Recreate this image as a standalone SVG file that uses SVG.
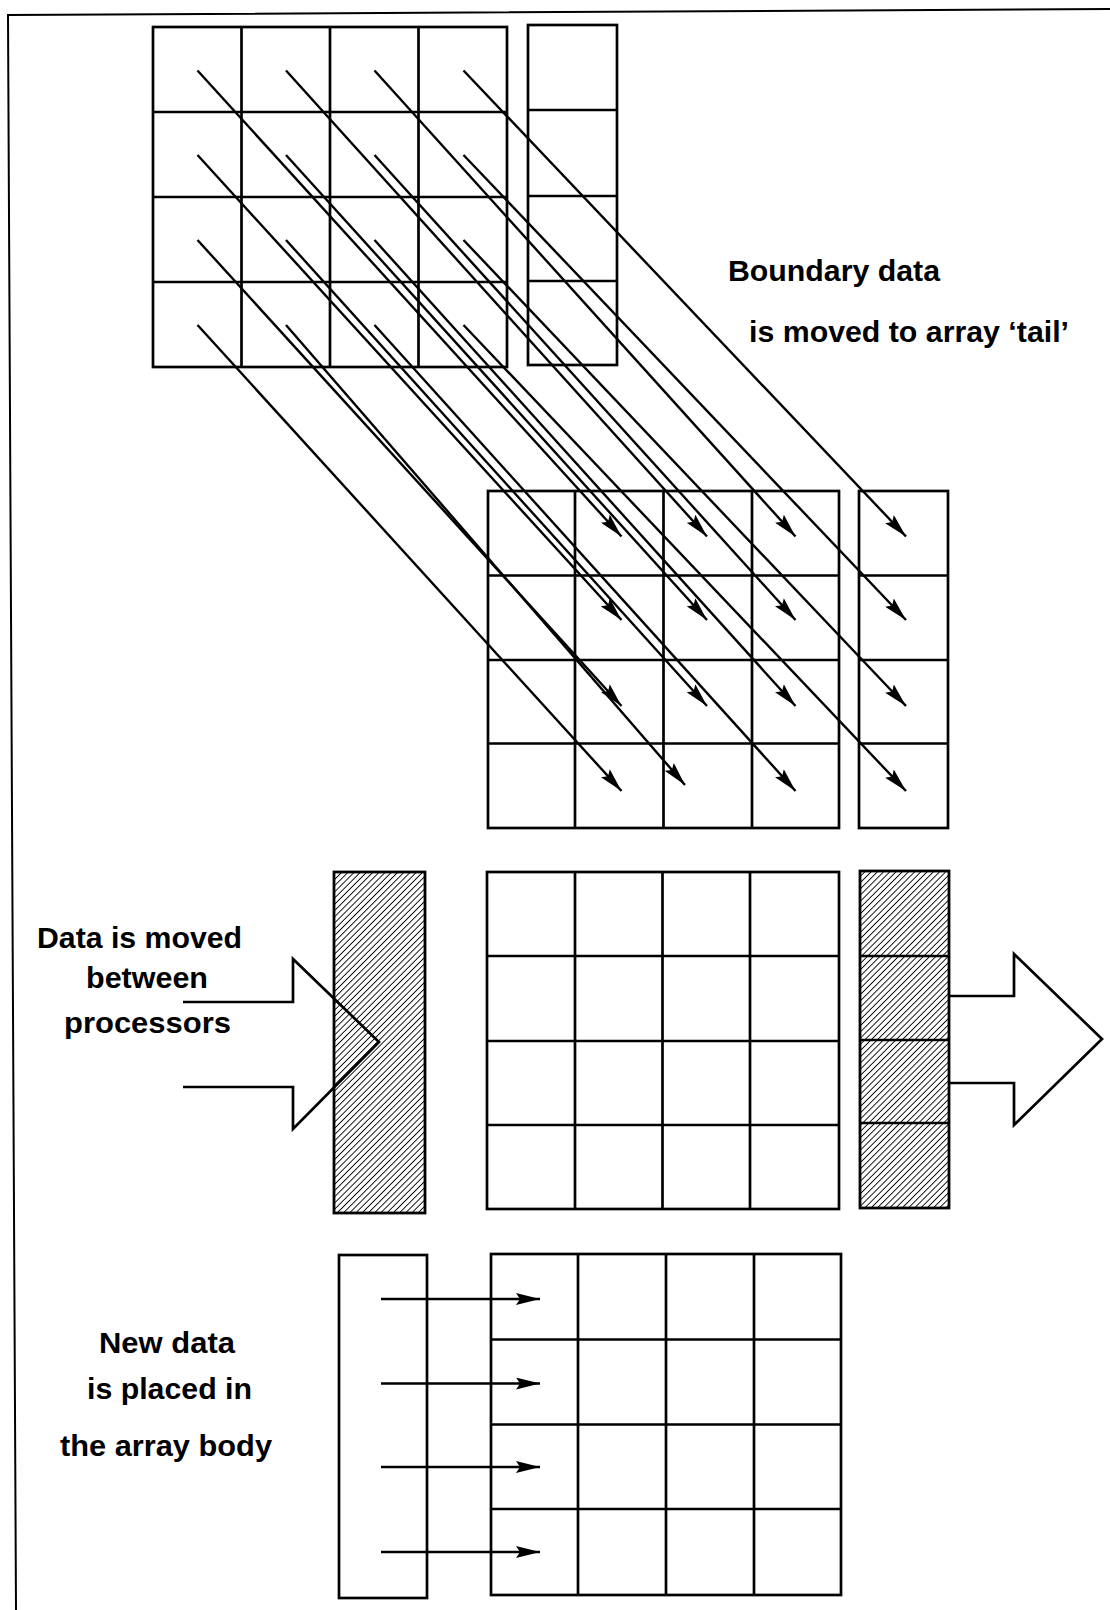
<svg xmlns="http://www.w3.org/2000/svg" width="1110" height="1610" viewBox="0 0 1110 1610">
<style>
.g{fill:none;stroke:#000;stroke-width:2.7}
.c{fill:none;stroke:#000;stroke-width:2.4}
.f{fill:none;stroke:#000;stroke-width:2}
.h{fill:url(#hatch);stroke:#000;stroke-width:2.8}
.t{font-family:"Liberation Sans",Arial,sans-serif;font-weight:bold;font-size:30px;fill:#000}
</style>
<defs>
<pattern id="hatch" width="4.4" height="4.4" patternUnits="userSpaceOnUse" patternTransform="rotate(45)">
<line x1="0" y1="0" x2="0" y2="4.4" stroke="#000" stroke-width="1.8"/>
</pattern>
<marker id="ah" viewBox="0 0 24 12" refX="24" refY="6" markerWidth="24" markerHeight="12" markerUnits="userSpaceOnUse" orient="auto">
<path d="M0,0 L24,6 L0,12 L4,6 z" fill="#000"/>
</marker>
</defs>
<rect width="1110" height="1610" fill="#fff"/>
<g id="frame">
<path class="f" d="M16,1610 L8,15 L1110,9"/>
</g>
<g id="grid-top">
<rect class="g" x="153" y="27" width="354" height="340"/>
<path class="g" d="M241.5,27V367M330,27V367M418.5,27V367M153,112H507M153,197H507M153,282H507"/>
</g>
<g id="tail-top">
<rect class="g" x="528" y="25" width="89" height="340"/>
<path class="g" d="M528,110H617M528,196H617M528,281H617"/>
</g>
<g id="grid-mid">
<rect class="g" x="488" y="491" width="351" height="337"/>
<path class="g" d="M575,491V828M663.5,491V828M752,491V828M488,575.5H839M488,660H839M488,743.5H839"/>
</g>
<g id="tail-mid">
<rect class="g" x="859" y="491" width="89" height="337"/>
<path class="g" d="M859,575.5H948M859,660H948M859,743.5H948"/>
</g>
<g id="hatch-left">
<rect class="h" x="334" y="872" width="91" height="341"/>
</g>
<g id="grid-exchange">
<rect class="g" x="487" y="872" width="352" height="337"/>
<path class="g" d="M575,872V1209M662.5,872V1209M750,872V1209M487,956H839M487,1041H839M487,1125H839"/>
</g>
<g id="hatch-right">
<rect class="h" x="860" y="871" width="89" height="337"/>
<path class="g" d="M860,956H949M860,1040H949M860,1123H949"/>
</g>
<g id="arrow-in">
<path class="g" d="M183,1002 L293,1002 L293,959 L379,1042 L293,1129 L293,1087 L183,1087"/>
</g>
<g id="arrow-out">
<path class="g" d="M949,996 L1014,996 L1014,954 L1102,1039 L1014,1125 L1014,1083 L949,1083"/>
</g>
<g id="new-data">
<rect class="g" x="339" y="1255" width="88" height="343"/>
</g>
<g id="grid-bottom">
<rect class="g" x="491" y="1254" width="350" height="341"/>
<path class="g" d="M578,1254V1595M666,1254V1595M754,1254V1595M491,1339.5H841M491,1424.5H841M491,1509H841"/>
</g>
<g id="connectors">
<line class="c" x1="197.5" y1="70.5" x2="621.5" y2="536.5" marker-end="url(#ah)"/>
<line class="c" x1="286" y1="70.5" x2="707" y2="536.5" marker-end="url(#ah)"/>
<line class="c" x1="374.5" y1="70.5" x2="795.5" y2="536.5" marker-end="url(#ah)"/>
<line class="c" x1="463.5" y1="70.5" x2="906" y2="536.5" marker-end="url(#ah)"/>
<line class="c" x1="197.5" y1="155" x2="621.5" y2="620" marker-end="url(#ah)"/>
<line class="c" x1="286" y1="155" x2="707" y2="620" marker-end="url(#ah)"/>
<line class="c" x1="374.5" y1="155" x2="795.5" y2="620" marker-end="url(#ah)"/>
<line class="c" x1="463.5" y1="155" x2="906" y2="620" marker-end="url(#ah)"/>
<line class="c" x1="197.5" y1="240" x2="621.5" y2="706" marker-end="url(#ah)"/>
<line class="c" x1="286" y1="240" x2="707" y2="706" marker-end="url(#ah)"/>
<line class="c" x1="374.5" y1="240" x2="795.5" y2="706" marker-end="url(#ah)"/>
<line class="c" x1="463.5" y1="240" x2="906" y2="706" marker-end="url(#ah)"/>
<line class="c" x1="197.5" y1="325" x2="621.5" y2="791" marker-end="url(#ah)"/>
<line class="c" x1="286" y1="325" x2="685" y2="785" marker-end="url(#ah)"/>
<line class="c" x1="374.5" y1="325" x2="795.5" y2="791" marker-end="url(#ah)"/>
<line class="c" x1="463.5" y1="325" x2="906" y2="791" marker-end="url(#ah)"/>
<line class="c" x1="381" y1="1299" x2="540" y2="1299" marker-end="url(#ah)"/>
<line class="c" x1="381" y1="1383.5" x2="540" y2="1383.5" marker-end="url(#ah)"/>
<line class="c" x1="381" y1="1467" x2="540" y2="1467" marker-end="url(#ah)"/>
<line class="c" x1="381" y1="1552" x2="540" y2="1552" marker-end="url(#ah)"/>
</g>
<g id="labels">
<text class="t" x="728" y="281" textLength="212" lengthAdjust="spacingAndGlyphs">Boundary data</text>
<text class="t" x="749" y="342" textLength="320" lengthAdjust="spacingAndGlyphs">is moved to array ‘tail’</text>
<text class="t" x="37" y="948" textLength="205" lengthAdjust="spacingAndGlyphs">Data is moved</text>
<text class="t" x="86" y="988" textLength="122" lengthAdjust="spacingAndGlyphs">between</text>
<text class="t" x="64" y="1033" textLength="167" lengthAdjust="spacingAndGlyphs">processors</text>
<text class="t" x="99" y="1353" textLength="136" lengthAdjust="spacingAndGlyphs">New data</text>
<text class="t" x="87" y="1399" textLength="165" lengthAdjust="spacingAndGlyphs">is placed in</text>
<text class="t" x="60" y="1456" textLength="212" lengthAdjust="spacingAndGlyphs">the array body</text>
</g>
</svg>
